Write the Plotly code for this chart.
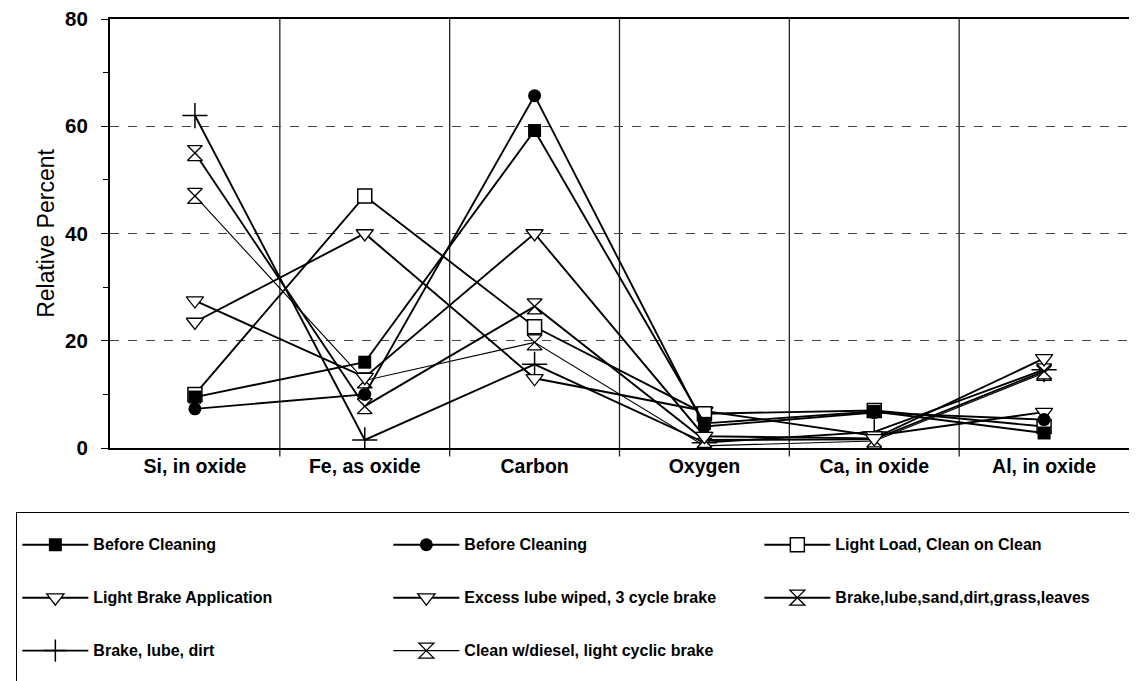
import plotly.graph_objects as go

categories = ["Si, in oxide", "Fe, as oxide", "Carbon", "Oxygen", "Ca, in oxide", "Al, in oxide"]

before_cleaning_sq = [9.5, 16.0, 59.2, 4.6, 6.8, 2.8]
before_cleaning_circ = [7.3, 10.0, 65.7, 4.0, 6.6, 5.3]
light_load = [10.0, 47.0, 22.6, 6.4, 7.0, 4.0]
light_brake = [27.5, 13.2, 40.0, 2.2, 1.8, 16.7]
excess_lube = [23.5, 40.0, 13.0, 6.9, 2.3, 6.7]
brake_lube_sand = [55.0, 7.8, 26.4, 1.5, 1.6, 14.3]
brake_lube_dirt = [62.0, 1.5, 15.6, 1.0, 3.0, 14.6]
clean_diesel = [47.0, 12.6, 19.7, 0.4, 1.3, 14.0]

names = [
    "Before Cleaning", "Before Cleaning", "Light Load, Clean on Clean",
    "Light Brake Application", "Excess lube wiped, 3 cycle brake",
    "Brake,lube,sand,dirt,grass,leaves", "Brake, lube, dirt",
    "Clean w/diesel, light cyclic brake",
]
series = [before_cleaning_sq, before_cleaning_circ, light_load, light_brake,
          excess_lube, brake_lube_sand, brake_lube_dirt, clean_diesel]

styles = [
    dict(symbol="square", color="black", size=13, line=dict(width=0, color="black")),
    dict(symbol="circle", color="black", size=13, line=dict(width=0, color="black")),
    dict(symbol="square", color="white", size=14, line=dict(width=1.5, color="black")),
    dict(symbol="triangle-down", color="white", size=15, line=dict(width=1.3, color="black")),
    dict(symbol="triangle-down", color="white", size=15, line=dict(width=1.3, color="black")),
    dict(symbol="hourglass", color="white", size=15, line=dict(width=1.3, color="black")),
    dict(symbol="cross-thin", color="black", size=18, line=dict(width=1.5, color="black")),
    dict(symbol="hourglass", color="white", size=15, line=dict(width=1.3, color="black")),
]
line_widths = [1.9, 1.9, 1.9, 1.9, 1.9, 1.9, 1.9, 1.1]

FONT = "Liberation Sans, Arial, Helvetica, sans-serif"

fig = go.Figure()
# added in reverse so the first series are drawn on top; legend order restored below
for nm, vals, st, lw in reversed(list(zip(names, series, styles, line_widths))):
    label = "\u00a0<br><span style='font-size:16px'>" + nm + "</span><br>\u00a0"
    fig.add_trace(go.Scatter(
        x=categories, y=vals, name=label, mode="lines+markers",
        line=dict(color="black", width=lw),
        marker=st,
    ))

# category separators
for i in range(1, len(categories)):
    fig.add_shape(type="line", xref="x", yref="paper", x0=i - 0.5, x1=i - 0.5,
                  y0=-0.02, y1=1, line=dict(color="#222", width=1.3), layer="below")

fig.update_layout(
    width=1129, height=673,
    margin=dict(l=102, r=8, t=11, b=233, autoexpand=False),
    paper_bgcolor="white", plot_bgcolor="white",
    font=dict(family=FONT, color="black"),
    showlegend=True,
    legend=dict(
        orientation="h", x=-0.0922, xanchor="left", y=-0.1492, yanchor="top",
        bordercolor="black", borderwidth=1.3, bgcolor="white",
        font=dict(family=FONT, size=12.8, color="black", weight="bold"),
        entrywidth=290, entrywidthmode="pixels", itemwidth=66,
        traceorder="reversed",
    ),
    xaxis=dict(
        type="category", range=[-0.5, 5.5], showgrid=False,
        showline=True, linecolor="black", linewidth=2, mirror=True,
        ticks="", tickfont=dict(family=FONT, size=19.5, weight="bold"),
        zeroline=False, ticklabeloverflow="allow",
    ),
    yaxis=dict(
        range=[0, 80], dtick=20, showgrid=True, gridcolor="#444", griddash="dash",
        gridwidth=1, showline=True, linecolor="black", linewidth=2,
        ticks="outside", ticklen=7, tickcolor="black", ticklabelstandoff=9,
        ticklabeloverflow="allow",
        minor=dict(dtick=10, ticks="outside", ticklen=5, tickcolor="black", showgrid=False),
        tickfont=dict(family=FONT, size=20.5, weight="bold"),
        title=dict(text="Relative Percent", font=dict(family=FONT, size=23), standoff=4),
        zeroline=False, automargin=False,
    ),
)

fig.write_html("out.html")
